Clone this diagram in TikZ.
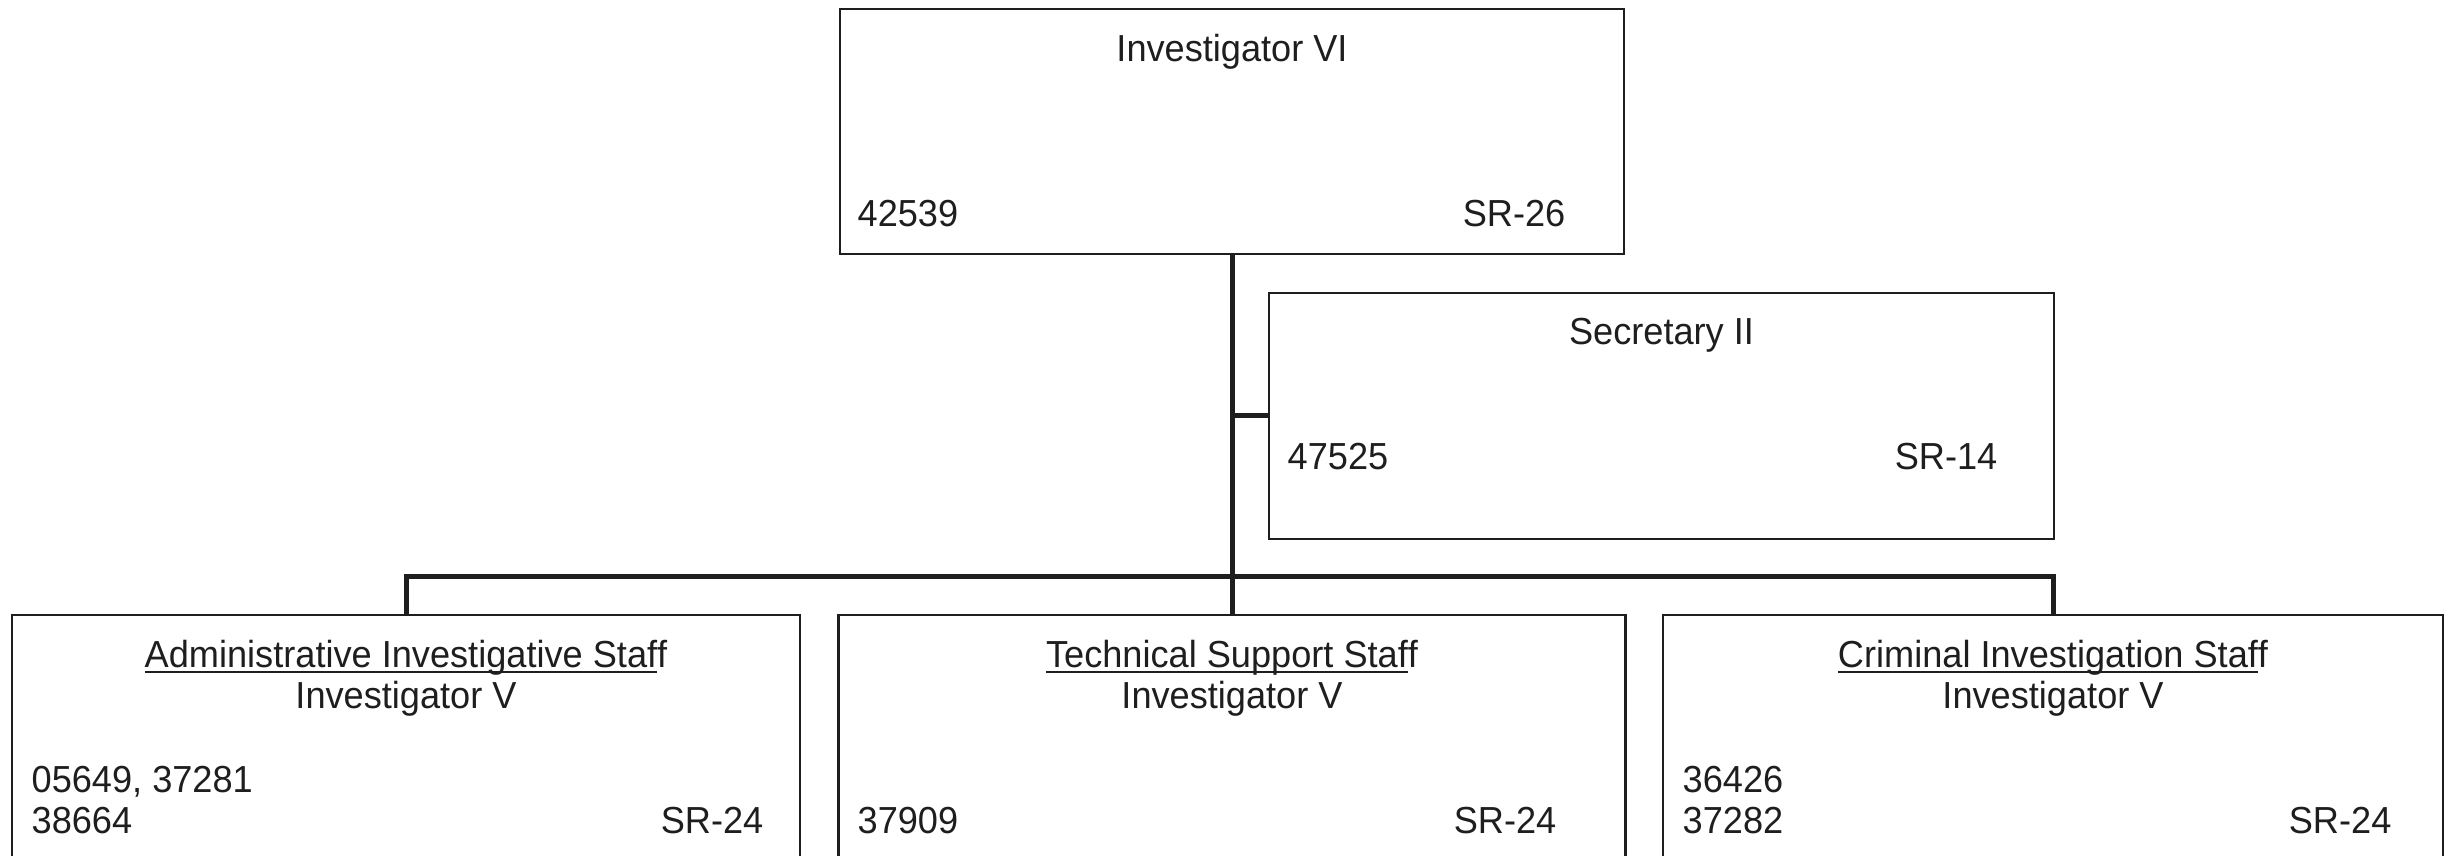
\documentclass[tikz,border=0pt]{standalone}
\usepackage{fontspec}
\setmainfont{Liberation Sans}[FakeStretch=0.96]
\definecolor{ink}{RGB}{30,30,30}
\newcommand\pxu{0.3pt}
\newcommand\myul[1]{\setbox0\hbox{#1}\rlap{\color{ink}\rule[-1.9pt]{\wd0}{0.65pt}}\box0}
\begin{document}
\begin{tikzpicture}[x=0.3pt,y=-0.3pt,
  box/.style={draw=ink, line width=0.75pt, inner sep=0pt},
  conn/.style={draw=ink, line width=1.5pt},
  txt/.style={inner sep=0pt, text=ink, font=\fontsize{11.3}{13}\selectfont}]
\useasboundingbox (0,0) rectangle (2448,856);
\clip (0,0) rectangle (2448,856);
% top box
\node[box, minimum width=784*\pxu, minimum height=245*\pxu] (top) at (1232,131.5) {};
\node[txt, anchor=base] (topT) at (1232,62) {Investigator VI};
\node[txt, anchor=base west] (topN) at (857,227) {42539};
\node[txt, anchor=base east] (topG) at (1566,227) {SR-26};
% secretary
\node[box, minimum width=785*\pxu, minimum height=246*\pxu] (sec) at (1661.5,416) {};
\node[txt, anchor=base] (secT) at (1661.5,345) {Secretary II};
\node[txt, anchor=base west] (secN) at (1287,470) {47525};
\node[txt, anchor=base east] (secG) at (1998,470) {SR-14};
% bottom boxes
\node[box, minimum width=788*\pxu, minimum height=285*\pxu] (b1) at (406,757.5) {};
\node[txt, anchor=base] (b1T) at (406,667) {\myul{Administrative Investigative Staf}f};
\node[txt, anchor=base] (b1S) at (406,708) {Investigator V};
\node[txt, anchor=base west] (b1N) at (31,792) {05649, 37281};
\node[txt, anchor=base west] (b1M) at (31,833) {38664};
\node[txt, anchor=base east] (b1G) at (764,833) {SR-24};

\node[box, minimum width=787*\pxu, minimum height=285*\pxu] (b2) at (1232,757.5) {};
\node[txt, anchor=base] (b2T) at (1232,667) {\myul{Technical Support Staf}f};
\node[txt, anchor=base] (b2S) at (1232,708) {Investigator V};
\node[txt, anchor=base west] (b2N) at (857,833) {37909};
\node[txt, anchor=base east] (b2G) at (1557,833) {SR-24};

\node[box, minimum width=780*\pxu, minimum height=285*\pxu] (b3) at (2053,757.5) {};
\node[txt, anchor=base] (b3T) at (2053,667) {\myul{Criminal Investigation Staf}f};
\node[txt, anchor=base] (b3S) at (2053,708) {Investigator V};
\node[txt, anchor=base west] (b3N) at (1682,792) {36426};
\node[txt, anchor=base west] (b3M) at (1682,833) {37282};
\node[txt, anchor=base east] (b3G) at (2392,833) {SR-24};
% connectors
\draw[conn] (top.south) -- (b2.north);
\draw[conn] (b1.north) -- ++(0,-37) -| (b3.north);
\draw[conn] (top.south |- sec.west) -- (sec.west);
\end{tikzpicture}
\end{document}
